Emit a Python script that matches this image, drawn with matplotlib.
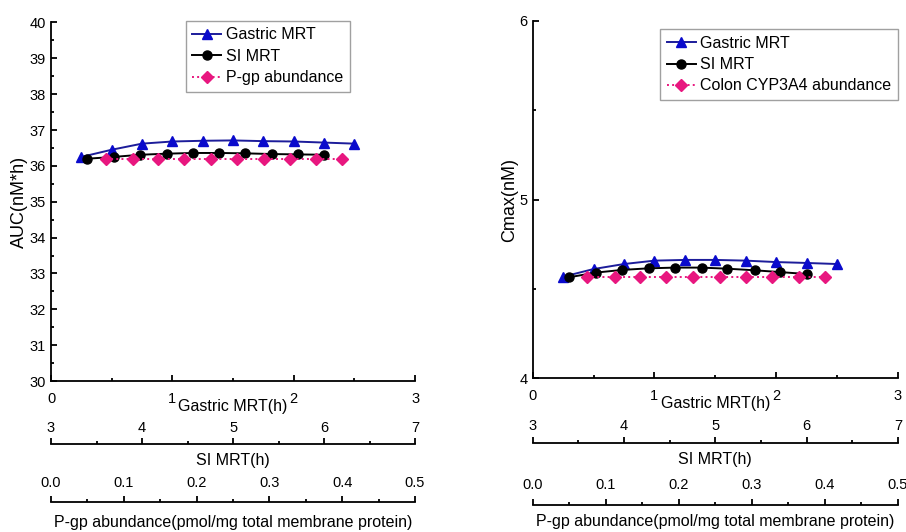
import matplotlib.pyplot as plt
from matplotlib.ticker import MultipleLocator, FormatStrFormatter

plt.rcParams['font.family'] = ['Liberation Sans', 'DejaVu Sans']

# x values (shared by both panels)
gastric_mrt = [0.25, 0.5, 0.75, 1.0, 1.25, 1.5, 1.75, 2.0, 2.25, 2.5]
si_mrt = [3.40, 3.69, 3.98, 4.27, 4.56, 4.85, 5.13, 5.43, 5.71, 6.0]
pgp = [0.075, 0.112, 0.147, 0.183, 0.220, 0.256, 0.292, 0.328, 0.364, 0.400]

# left panel: AUC
auc_gastric = [36.25, 36.45, 36.62, 36.68, 36.70, 36.71, 36.69, 36.68, 36.65, 36.62]
auc_si = [36.20, 36.25, 36.31, 36.34, 36.36, 36.36, 36.35, 36.33, 36.32, 36.31]
auc_pgp = [36.20, 36.20, 36.20, 36.20, 36.20, 36.20, 36.20, 36.20, 36.20, 36.20]

# right panel: Cmax
cmax_gastric = [4.568, 4.611, 4.639, 4.658, 4.662, 4.662, 4.658, 4.650, 4.645, 4.639]
cmax_si = [4.565, 4.591, 4.606, 4.615, 4.619, 4.619, 4.613, 4.604, 4.594, 4.583]
cmax_pgp = [4.565, 4.565, 4.565, 4.565, 4.565, 4.565, 4.565, 4.565, 4.565, 4.565]

blue = '#0a0acc'
navy = '#1c1c9a'
pink = '#e8177f'
lw_ax = 1.3
tick_fs = 10.5
label_fs = 11.5

fig = plt.figure(figsize=(9.06, 5.32), dpi=100)


def extra_axis(left, bottom, width, lims, major, minor, label, fmt, tpad, lpad):
    a = fig.add_axes([left, bottom, width, 1e-4])
    a.set_facecolor('none')
    for s in ['bottom', 'left', 'right']:
        a.spines[s].set_visible(False)
    a.spines['top'].set_linewidth(lw_ax)
    a.yaxis.set_visible(False)
    a.xaxis.tick_top()
    a.xaxis.set_label_position('bottom')
    a.set_xlim(*lims)
    a.xaxis.set_major_locator(MultipleLocator(major))
    a.xaxis.set_minor_locator(MultipleLocator(minor))
    a.xaxis.set_major_formatter(FormatStrFormatter(fmt))
    a.tick_params(axis='x', which='major', direction='out', length=4, width=lw_ax,
                  labelsize=tick_fs, pad=tpad)
    a.tick_params(axis='x', which='minor', direction='out', length=2.5, width=lw_ax)
    a.set_xlabel(label, fontsize=label_fs, labelpad=lpad)
    return a


def panel(rect, y_gas, y_si, y_pgp, ylim, ymaj, ymin, ylabel, pgp_name,
          leg_anchor, si_y, pgp_y, pgp_lpad):
    ax = fig.add_axes(rect)
    ax.spines['top'].set_visible(False)
    ax.spines['right'].set_visible(False)
    ax.spines['left'].set_linewidth(lw_ax)
    ax.spines['bottom'].set_linewidth(lw_ax)
    ax.set_xlim(0, 3)
    ax.set_ylim(*ylim)
    ax.xaxis.set_major_locator(MultipleLocator(1))
    ax.xaxis.set_minor_locator(MultipleLocator(0.5))
    ax.yaxis.set_major_locator(MultipleLocator(ymaj))
    ax.yaxis.set_minor_locator(MultipleLocator(ymin))
    ax.tick_params(which='major', direction='in', length=4, width=lw_ax, labelsize=tick_fs)
    ax.tick_params(axis='x', which='major', pad=8)
    ax.tick_params(which='minor', direction='in', length=2.5, width=lw_ax)
    ax.set_xlabel('Gastric MRT(h)', fontsize=label_fs, labelpad=-5)
    ax.set_ylabel(ylabel, fontsize=13, labelpad=1)

    # the three series share the plot area but use their own x scales
    ax_si = ax.twiny()
    ax_si.set_xlim(3, 7)
    ax_pg = ax.twiny()
    ax_pg.set_xlim(0, 0.5)
    for a in (ax_si, ax_pg):
        a.axis('off')

    l1, = ax.plot(gastric_mrt, y_gas, '-', color=navy, lw=1.4, marker='^', ms=7,
                  mfc=blue, mec=blue, label='Gastric MRT', zorder=3)
    l2, = ax_si.plot(si_mrt, y_si, '-', color='black', lw=1.4, marker='o', ms=6.5,
                     label='SI MRT', zorder=4)
    l3, = ax_pg.plot(pgp, y_pgp, ':', color=pink, lw=1.4, marker='D', ms=6,
                     label=pgp_name, zorder=2)
    ax.legend(handles=[l1, l2, l3], loc='upper right', bbox_to_anchor=leg_anchor,
              fontsize=label_fs, frameon=True, fancybox=False, edgecolor='#888888',
              handlelength=1.8, handletextpad=0.3, borderpad=0.4, labelspacing=0.4,
              borderaxespad=0)

    left, bottom, width, height = rect
    extra_axis(left, si_y, width, (3, 7), 1, 0.5, 'SI MRT(h)', '%d', 3, 6.5)
    extra_axis(left, pgp_y, width, (0, 0.5), 0.1, 0.05,
               'P-gp abundance(pmol/mg total membrane protein)', '%.1f', 5, pgp_lpad)
    return ax


panel([0.0563, 0.2838, 0.4018, 0.674], auc_gastric, auc_si, auc_pgp,
      (30, 40), 1, 0.5, 'AUC(nM*h)', 'P-gp abundance', (0.82, 1.004),
      0.1648, 0.0559, 9)
panel([0.588, 0.289, 0.403, 0.672], cmax_gastric, cmax_si, cmax_pgp,
      (4, 6), 1, 0.5, 'Cmax(nM)', 'Colon CYP3A4 abundance', (1.0, 0.976),
      0.1678, 0.0508, 6.5)

fig.savefig('out.png', dpi=100)
